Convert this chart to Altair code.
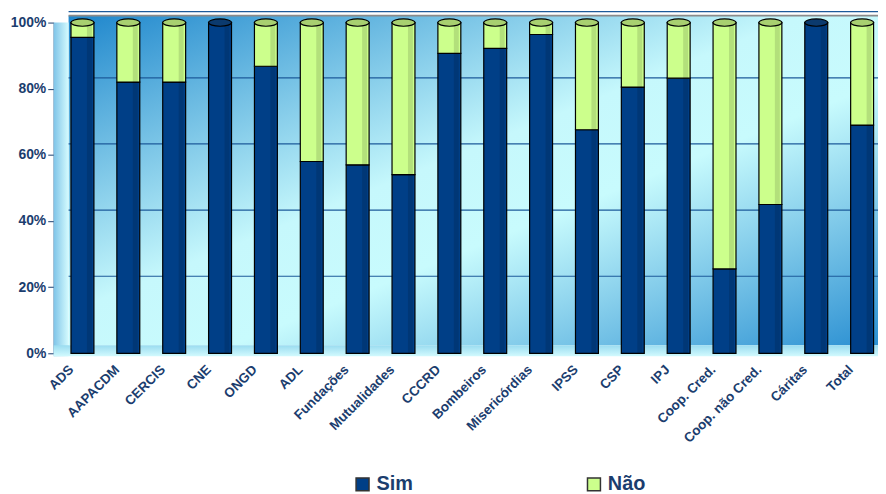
import altair as alt
import pandas as pd

categories = ["ADS", "AAPACDM", "CERCIS", "CNE", "ONGD", "ADL", "Fundações",
              "Mutualidades", "CCCRD", "Bombeiros", "Misericórdias", "IPSS",
              "CSP", "IPJ", "Coop. Cred.", "Coop. não Cred.", "Cáritas", "Total"]
sim = [95.5, 82, 82, 100, 86.8, 58, 57, 54, 90.7, 92.2, 96.4, 67.6, 80.5, 83.2,
       25.5, 45, 100, 69]
nao = [4.5, 18, 18, 0, 13.2, 42, 43, 46, 9.3, 7.8, 3.6, 32.4, 19.5, 16.8,
       74.5, 55, 0, 31]
series = ["Sim", "Não"]
colors = ["#003F87", "#CCFF8C"]
cap_colors = ["#0B3A6E", "#A8D070"]
grid_vals = [20, 40, 60, 80, 100]
y_ticks = [0, 20, 40, 60, 80, 100]

rows = []
for c, s, n in zip(categories, sim, nao):
    rows.append({"cat": c, "serie": "Sim", "val": s, "ord": 0})
    rows.append({"cat": c, "serie": "Não", "val": n, "ord": 1})
df = pd.DataFrame(rows)

caps = pd.DataFrame({
    "cat": categories,
    "top": ["Não" if n > 0 else "Sim" for n in nao],
    "v": [s + n for s, n in zip(sim, nao)],
})

W, H = 826, 333
NAVY = "#1B3D6E"
FONT = "Liberation Sans"

one = pd.DataFrame({"a": [0]})

xscale = alt.Scale(domain=categories, paddingInner=0.5, paddingOuter=0.1935, align=0.975)
yscale = alt.Scale(domain=[0, 100], nice=False)
yaxis = alt.Axis(title=None, values=y_ticks,
                 labelExpr="datum.value + '%'", labelFontSize=14,
                 labelFontWeight="bold", labelColor=NAVY,
                 labelFont=FONT, tickColor=NAVY, tickSize=6,
                 domainColor=NAVY, grid=False, labelPadding=2)

bg = alt.Chart(one).mark_rect(
    fill={"gradient": "linear", "x1": 0, "y1": 0, "x2": 1, "y2": 1,
          "stops": [{"offset": 0, "color": "#1E86CC"},
                    {"offset": 0.45, "color": "#C6F8FC"},
                    {"offset": 0.6, "color": "#C8FBFD"},
                    {"offset": 1, "color": "#2A8FD2"}]}
).encode(x=alt.value(15), x2=alt.value(W + 10), y=alt.value(-7), y2=alt.value(H - 8))

topline = alt.Chart(one).mark_rule(color="#8A8A8A", strokeWidth=2).encode(
    x=alt.value(15), x2=alt.value(W + 10), y=alt.value(-7))

side = alt.Chart(one).mark_rect(
    fill={"gradient": "linear", "x1": 0, "y1": 0, "x2": 1, "y2": 0,
          "stops": [{"offset": 0, "color": "#7FC4E8"},
                    {"offset": 1, "color": "#D4FBFE"}]}
).encode(x=alt.value(0), x2=alt.value(15), y=alt.value(0), y2=alt.value(H + 3))

floor = alt.Chart(one).mark_rect(
    fill={"gradient": "linear", "x1": 0, "y1": 0, "x2": 0, "y2": 1,
          "stops": [{"offset": 0, "color": "#9ADCF0"},
                    {"offset": 1, "color": "#D2FAFE"}]}
).encode(x=alt.value(0), x2=alt.value(W + 10), y=alt.value(H - 8), y2=alt.value(H + 3))

grid = alt.Chart(pd.DataFrame({"g": grid_vals})).mark_rule(
    color="#1D5A9A", strokeWidth=1.2, yOffset=-11
).encode(
    y=alt.Y("g:Q", scale=yscale, axis=yaxis),
    x=alt.value(15), x2=alt.value(W + 10)
)

bars = alt.Chart(df).mark_bar(stroke="black", strokeWidth=1.2).encode(
    x=alt.X("cat:N", sort=categories, scale=xscale,
            axis=alt.Axis(title=None, labelAngle=-45, labelAlign="right",
                          labelBaseline="middle", labelFontSize=13.5,
                          labelFontWeight="bold", labelColor=NAVY,
                          labelFont=FONT, ticks=False, domain=True,
                          domainColor="black", domainWidth=1.5,
                          labelPadding=14, labelOffset=-11)),
    y=alt.Y("val:Q", stack="zero", scale=yscale, axis=yaxis),
    color=alt.Color("serie:N", sort=series,
                    scale=alt.Scale(domain=series, range=colors),
                    legend=alt.Legend(title=None, orient="none", legendX=301,
                                      legendY=455, direction="horizontal",
                                      symbolType="square", symbolSize=170,
                                      symbolStrokeColor="#333333",
                                      symbolStrokeWidth=1.5,
                                      labelFontSize=20, labelFontWeight="bold",
                                      labelColor=NAVY, labelFont=FONT,
                                      columnPadding=172, symbolOpacity=1)),
    order=alt.Order("ord:Q")
)

shade = alt.Chart(df).mark_bar(width=5, xOffset=7, fill="black", opacity=0.12).encode(
    x=alt.X("cat:N", sort=categories, scale=xscale),
    y=alt.Y("val:Q", stack="zero", scale=yscale),
    detail="serie:N",
    order=alt.Order("ord:Q")
)

cap = alt.Chart(caps).mark_point(
    shape="M-1,0 A1,0.32 0 1,1 1,0 A1,0.32 0 1,1 -1,0 Z",
    size=540, filled=True, stroke="black", strokeWidth=1.2, opacity=1
).encode(
    x=alt.X("cat:N", sort=categories, scale=xscale),
    y=alt.Y("v:Q", scale=yscale),
    fill=alt.Fill("top:N", scale=alt.Scale(domain=series, range=cap_colors), legend=None)
)

chart = alt.layer(bg, topline, side, floor, grid, bars, shade, cap).properties(
    width=W, height=H,
    autosize=alt.AutoSizeParams(type="none"),
    padding={"left": 46, "top": 13, "right": 4, "bottom": 140}
).configure_view(stroke=None)

chart.save("out.html", embed_options={"renderer": "svg", "actions": False})
